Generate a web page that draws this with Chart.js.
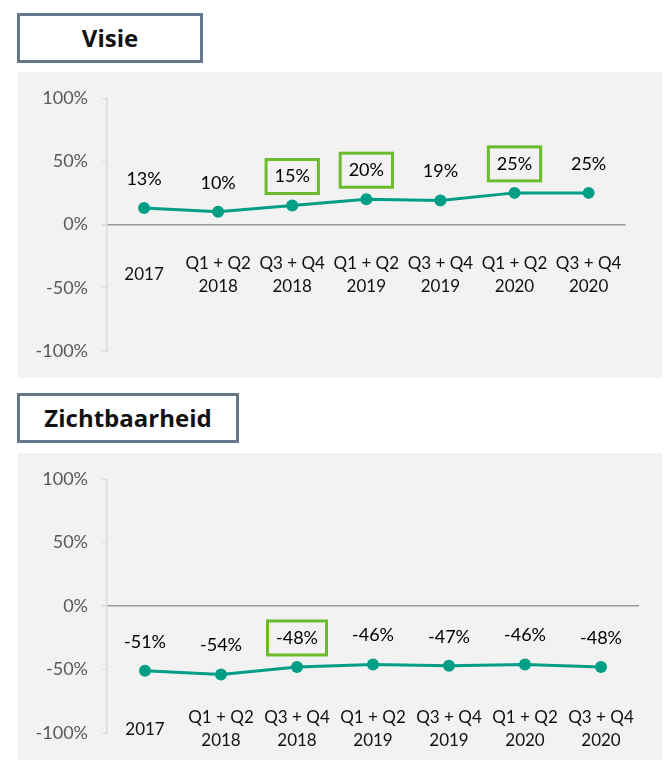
<!DOCTYPE html>
<html>
<head>
<meta charset="utf-8">
<script src="https://cdn.jsdelivr.net/npm/chart.js"></script>
<style>
  body { margin: 0; background: #fff; width: 666px; height: 760px; position: relative; overflow: hidden; }
  .titleBox {
    position: absolute; box-sizing: border-box; border: 3px solid #64788a; background: #fff;
    font-family: "Open Sans", sans-serif; font-weight: 700; font-size: 24px; color: #111;
    text-align: center; line-height: 44px;
  }
  .chartBox { position: absolute; left: 18px; width: 644px; height: 306px; background: #f2f2f2; }
</style>
</head>
<body>
<div class="titleBox" style="left:17px; top:13px; width:186px; height:50px;">Visie</div>
<div class="chartBox" style="top:72px;"><canvas id="visieChart"></canvas></div>
<div class="titleBox" style="left:17px; top:393px; width:222px; height:50px;">Zichtbaarheid</div>
<div class="chartBox" style="top:453px; height:307px;"><canvas id="zichtChart"></canvas></div>

<script>
const periods = [
  '2017',
  ['Q1 + Q2', '2018'],
  ['Q3 + Q4', '2018'],
  ['Q1 + Q2', '2019'],
  ['Q3 + Q4', '2019'],
  ['Q1 + Q2', '2020'],
  ['Q3 + Q4', '2020'],
];
const visieValues = [13, 10, 15, 20, 19, 25, 25];
const zichtValues = [-51, -54, -48, -46, -47, -46, -48];
const visieHighlight = [2, 3, 5];
const zichtHighlight = [2];
const yTicks = [-100, -50, 0, 50, 100];

const lineColor = '#009e85';
const boxColor = '#6cbb2d';
const labelFont = '18px Lato';

// draws the % labels above each point, with a green box for the highlighted ones
const pointLabels = {
  id: 'pointLabels',
  afterDatasetsDraw(chart, args, opts) {
    const ctx = chart.ctx;
    const meta = chart.getDatasetMeta(0);
    const values = chart.data.datasets[0].data;
    ctx.save();
    ctx.font = labelFont;
    ctx.fillStyle = '#000';
    ctx.textAlign = 'center';
    ctx.textBaseline = 'middle';
    meta.data.forEach((pt, i) => {
      const txt = values[i] + '%';
      const y = pt.y - 29;
      ctx.fillText(txt, pt.x, y);
      if (opts.highlight.includes(i)) {
        const w = ctx.measureText(txt).width + 17;
        ctx.strokeStyle = boxColor;
        ctx.lineWidth = 3;
        ctx.strokeRect(pt.x - w / 2, y - 17, w, 34);
      }
    });
    ctx.restore();
  }
};

function makeChart(canvasId, values, highlight, xPos, xPadding) {
  const ctx = document.getElementById(canvasId).getContext('2d');
  return new Chart(ctx, {
    type: 'line',
    data: {
      labels: periods,
      datasets: [{
        data: values,
        borderColor: lineColor,
        backgroundColor: lineColor,
        borderWidth: 3,
        pointRadius: 6,
        pointBackgroundColor: lineColor,
        pointBorderWidth: 0,
        tension: 0,
      }],
    },
    options: {
      responsive: true,
      maintainAspectRatio: false,
      animation: false,
      layout: { padding: { top: 26, right: 23, bottom: 27, left: 0 } },
      plugins: {
        legend: { display: false },
        tooltip: { enabled: false },
        pointLabels: { highlight: highlight },
      },
      scales: {
        x: {
          type: 'category',
          offset: true,
          position: { y: xPos },
          grid: { display: false, drawTicks: false },
          border: { display: false },
          afterFit: (scale) => { scale.height = 0; },
          ticks: {
            color: '#111',
            font: { family: 'Lato', size: 17, lineHeight: 1.35 },
            padding: xPadding,
            crossAlign: 'center',
            maxRotation: 0,
            autoSkip: false,
          },
        },
        y: {
          min: -100,
          max: 100,
          afterBuildTicks: (scale) => { scale.ticks = yTicks.map(v => ({ value: v })); },
          afterFit: (scale) => { scale.width = 89; },
          border: { display: true, color: '#d9d9d9', width: 1.5 },
          grid: {
            color: (c) => c.tick && c.tick.value === 0 ? '#9a9a9a' : 'transparent',
            lineWidth: (c) => c.tick && c.tick.value === 0 ? 1.5 : 1,
            tickColor: '#d9d9d9',
            tickLength: 5,
          },
          ticks: {
            color: '#595959',
            font: { family: 'Lato', size: 18 },
            padding: 14,
            callback: (v) => v + '%',
          },
        },
      },
    },
    plugins: [pointLabels],
  });
}

makeChart('visieChart', visieValues, visieHighlight, 0, 39);
makeChart('zichtChart', zichtValues, zichtHighlight, -100, -15);
</script>
</body>
</html>
